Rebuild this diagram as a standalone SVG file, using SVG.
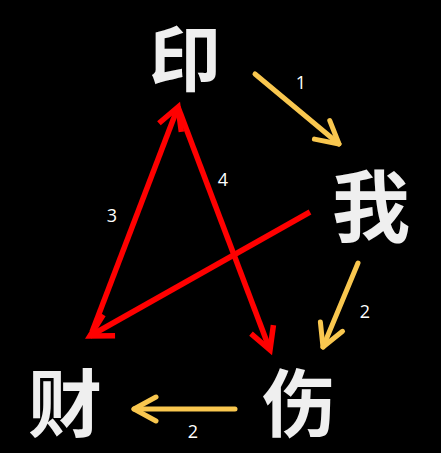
<svg xmlns="http://www.w3.org/2000/svg" width="441" height="453" viewBox="0 0 441 453">
<style>
.node{font-family:"Noto Sans CJK SC","Noto Sans CJK JP",sans-serif;font-weight:bold;fill:#efefef;text-anchor:middle}
.lbl{font-family:"Open Sans","DejaVu Sans",sans-serif;font-size:18px;fill:#ffffff;text-anchor:middle}
.y{stroke:#f9c74f;stroke-width:5;fill:none;stroke-linecap:round}
.r{stroke:#ff0000;stroke-width:5.5;fill:none;stroke-linecap:butt}
</style>
<defs>
<marker id="ay" viewBox="-28 -16 32 32" markerWidth="32" markerHeight="32" refX="0" refY="0" orient="auto" markerUnits="userSpaceOnUse" overflow="visible">
<path d="M-22,-12 L0,0 L-22,12" fill="none" stroke="#f9c74f" stroke-width="5" stroke-linecap="round" stroke-linejoin="round"/>
</marker>
<marker id="ar" viewBox="-28 -16 32 32" markerWidth="32" markerHeight="32" refX="0" refY="0" orient="auto" markerUnits="userSpaceOnUse" overflow="visible">
<path d="M-22,-12 L0,0 L-22,12" fill="none" stroke="#ff0000" stroke-width="5.5" stroke-linecap="butt" stroke-linejoin="miter"/>
</marker>
</defs>
<rect width="441" height="453" fill="#000000"/>
<g id="connectors">
<line class="y" x1="255" y1="74" x2="339" y2="144" marker-end="url(#ay)"/>
<line class="y" x1="358" y1="263" x2="323" y2="347" marker-end="url(#ay)"/>
<line class="y" x1="235" y1="409" x2="134" y2="409" marker-end="url(#ay)"/>
<line class="r" x1="92" y1="332" x2="178" y2="107" marker-end="url(#ar)"/>
<line class="r" x1="178" y1="107" x2="270" y2="350" marker-end="url(#ar)"/>
<line class="r" x1="310" y1="212" x2="90" y2="336" marker-end="url(#ar)"/>
<text class="lbl" x="301" y="89">1</text>
<text class="lbl" x="365" y="318">2</text>
<text class="lbl" x="193" y="438">2</text>
<text class="lbl" x="112" y="222">3</text>
<text class="lbl" x="223" y="186">4</text>
</g>
<g id="node-yin"><text class="node" x="185" y="85" font-size="72">印</text></g>
<g id="node-wo"><text class="node" x="371" y="236" font-size="78">我</text></g>
<g id="node-shang"><text class="node" x="299" y="431" font-size="74">伤</text></g>
<g id="node-cai"><text class="node" x="65" y="431" font-size="74">财</text></g>
</svg>
